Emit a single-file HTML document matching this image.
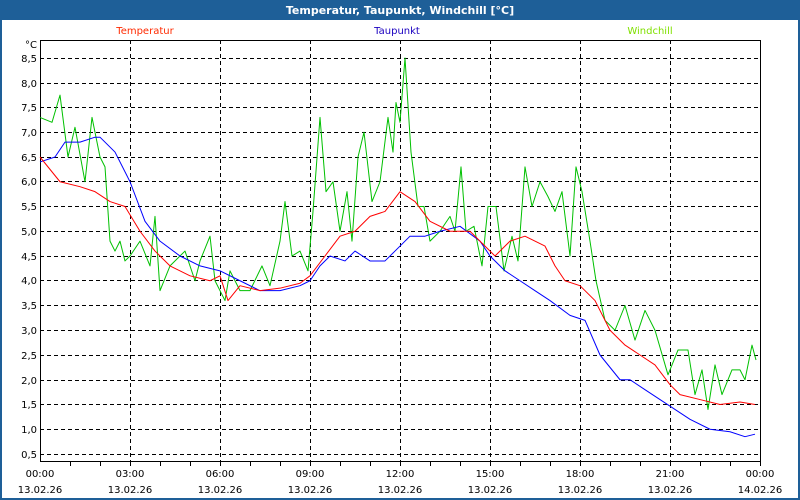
<!DOCTYPE html>
<html><head><style>
body{margin:0;background:#fff;}
svg{display:block;font-family:Tahoma,"DejaVu Sans","Liberation Sans",sans-serif;}
</style></head><body>
<svg width="800" height="500" viewBox="0 0 800 500">
<rect x="0" y="0" width="800" height="500" fill="#1e5f98"/>
<rect x="2" y="20" width="796" height="478" fill="#fff"/>
<text x="400" y="14" font-size="11" font-weight="bold" fill="#fff" text-anchor="middle">Temperatur, Taupunkt, Windchill [°C]</text>
<text x="145" y="34" font-size="10" fill="#ff2a00" text-anchor="middle">Temperatur</text>
<text x="397" y="34" font-size="10" fill="#1a00c0" text-anchor="middle">Taupunkt</text>
<text x="650" y="34" font-size="10" fill="#80e000" text-anchor="middle">Windchill</text>
<g stroke="#000" stroke-width="1" stroke-dasharray="4,3" fill="none">
<path d="M40 58.5H760M40 83.5H760M40 107.5H760M40 132.5H760M40 157.5H760M40 181.5H760M40 206.5H760M40 231.5H760M40 256.5H760M40 280.5H760M40 305.5H760M40 330.5H760M40 355.5H760M40 380.5H760M40 404.5H760M40 429.5H760M40 454.5H760"/>
<path d="M130.5 40V461M220.5 40V461M310.5 40V461M400.5 40V461M490.5 40V461M580.5 40V461M670.5 40V461"/>
</g>
<g stroke="#000" fill="none">
<path d="M40.5 40V461.5H760.5V40M40 40.5H760"/>
<path d="M70.5 461V466M100.5 461V466M130.5 461V466M160.5 461V466M190.5 461V466M220.5 461V466M250.5 461V466M280.5 461V466M310.5 461V466M340.5 461V466M370.5 461V466M400.5 461V466M430.5 461V466M460.5 461V466M490.5 461V466M520.5 461V466M550.5 461V466M580.5 461V466M610.5 461V466M640.5 461V466M670.5 461V466M700.5 461V466M730.5 461V466M760.5 461V466"/>
</g>
<g font-size="10" fill="#000" text-anchor="end">
<text x="37" y="48">°C</text>
<text x="37" y="62">8,5</text><text x="37" y="87">8,0</text><text x="37" y="111">7,5</text><text x="37" y="136">7,0</text><text x="37" y="161">6,5</text><text x="37" y="185">6,0</text><text x="37" y="210">5,5</text><text x="37" y="235">5,0</text><text x="37" y="260">4,5</text><text x="37" y="284">4,0</text><text x="37" y="309">3,5</text><text x="37" y="334">3,0</text><text x="37" y="359">2,5</text><text x="37" y="384">2,0</text><text x="37" y="408">1,5</text><text x="37" y="433">1,0</text><text x="37" y="458">0,5</text>
</g>
<g font-size="10" fill="#000" text-anchor="middle">
<text x="40" y="477">00:00</text><text x="40" y="493">13.02.26</text>
<text x="130" y="477">03:00</text><text x="130" y="493">13.02.26</text>
<text x="220" y="477">06:00</text><text x="220" y="493">13.02.26</text>
<text x="310" y="477">09:00</text><text x="310" y="493">13.02.26</text>
<text x="400" y="477">12:00</text><text x="400" y="493">13.02.26</text>
<text x="490" y="477">15:00</text><text x="490" y="493">13.02.26</text>
<text x="580" y="477">18:00</text><text x="580" y="493">13.02.26</text>
<text x="670" y="477">21:00</text><text x="670" y="493">13.02.26</text>
<text x="760" y="477">00:00</text><text x="760" y="493">14.02.26</text>
</g>
<g transform="translate(0,478.75) scale(1,-49.5)" fill="none" stroke-width="1" stroke-linejoin="round">
<polyline vector-effect="non-scaling-stroke" stroke="#00c000" points="40,7.3 52,7.2 60,7.75 68,6.5 75,7.1 85,6.0 92,7.3 100,6.5 105,6.3 110,4.8 115,4.6 120,4.8 125,4.4 130,4.5 140,4.8 150,4.3 155,5.3 160,3.8 170,4.3 185,4.6 195,4.0 200,4.4 210,4.9 215,4.0 225,3.6 230,4.2 240,3.8 250,3.8 262,4.3 270,3.9 280,4.8 285,5.6 292,4.5 300,4.6 308,4.2 313,5.4 320,7.3 326,5.8 333,6.0 340,5.0 347,5.8 352,4.8 358,6.5 364,7.0 372,5.6 380,6.0 388,7.3 393,6.6 396,7.6 400,7.2 405,8.5 411,6.6 418,5.5 424,5.5 430,4.8 440,5.0 450,5.3 455,5.0 461,6.3 466,5.0 474,5.1 482,4.3 488,5.5 496,5.5 504,4.2 512,4.9 518,4.4 525,6.3 532,5.5 540,6.0 548,5.7 555,5.4 562,5.8 570,4.5 576,6.3 582,5.8 590,4.8 596,4.0 605,3.2 615,3.0 625,3.5 635,2.8 645,3.4 655,3.0 668,2.1 678,2.6 688,2.6 695,1.7 702,2.2 708,1.4 715,2.3 722,1.7 732,2.2 740,2.2 745,2.0 752,2.7 756,2.4"/>
<polyline vector-effect="non-scaling-stroke" stroke="#0000ff" points="40,6.4 55,6.5 65,6.8 80,6.8 95,6.9 100,6.9 115,6.6 130,6.0 145,5.2 160,4.8 180,4.5 200,4.3 220,4.2 240,4.0 260,3.8 280,3.8 300,3.9 310,4.0 320,4.3 330,4.5 345,4.4 355,4.6 370,4.4 385,4.4 395,4.6 410,4.9 425,4.9 440,5.0 460,5.1 480,4.8 490,4.5 505,4.2 520,4.0 535,3.8 550,3.6 570,3.3 585,3.2 600,2.5 620,2.0 630,2.0 645,1.8 660,1.6 675,1.4 690,1.2 710,1.0 730,0.95 745,0.85 755,0.9"/>
<polyline vector-effect="non-scaling-stroke" stroke="#ff0000" points="40,6.5 60,6.0 80,5.9 95,5.8 110,5.6 125,5.5 140,5.0 155,4.6 170,4.3 190,4.1 210,4.0 220,4.1 228,3.6 240,3.9 260,3.8 280,3.85 300,3.95 310,4.1 325,4.5 340,4.9 355,5.0 370,5.3 385,5.4 400,5.8 415,5.6 430,5.2 450,5.0 470,5.0 485,4.7 495,4.5 510,4.8 525,4.9 545,4.7 555,4.3 565,4.0 580,3.9 595,3.6 610,3.0 625,2.7 640,2.5 655,2.3 670,1.9 680,1.7 700,1.6 720,1.5 740,1.55 755,1.5"/>
</g>
</svg>
</body></html>
